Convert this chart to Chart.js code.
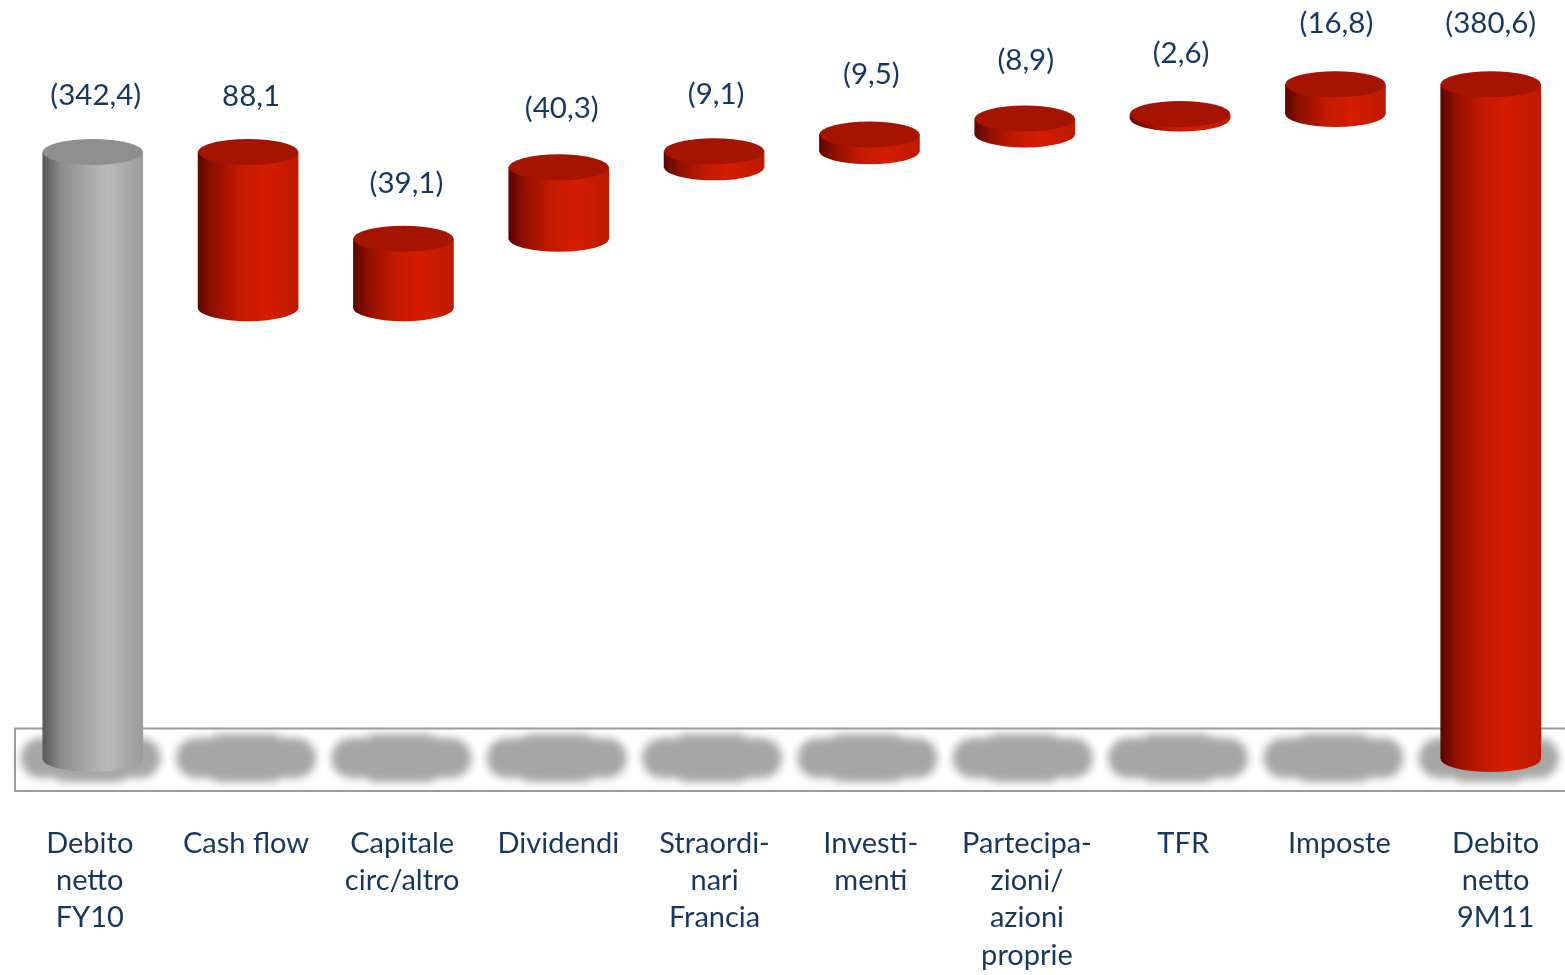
<!DOCTYPE html>
<html lang="it">
<head>
<meta charset="utf-8">
<title>Debito netto</title>
<style>
  html, body { margin: 0; padding: 0; background: #fff; overflow: hidden; }
  #frame { width: 1565px; height: 975px; overflow: hidden; }
  #frame canvas { display: block; }
</style>
<script src="https://cdn.jsdelivr.net/npm/chart.js@4"></script>
</head>
<body>
<div id="frame"><canvas id="bridge" width="1600" height="975" style="width:1600px;height:975px"></canvas></div>
<script>
// Net debt bridge, values in the reported unit
const categories = [
  ["Debito", "netto", "FY10"],
  ["Cash flow"],
  ["Capitale", "circ/altro"],
  ["Dividendi"],
  ["Straordi-", "nari", "Francia"],
  ["Investi-", "menti"],
  ["Partecipa-", "zioni/", "azioni", "proprie"],
  ["TFR"],
  ["Imposte"],
  ["Debito", "netto", "9M11"]
];
const valueLabels = ["(342,4)", "88,1", "(39,1)", "(40,3)", "(9,1)", "(9,5)", "(8,9)", "(2,6)", "(16,8)", "(380,6)"];
const barLow  = [0, 254.3, 254.3, 293.4, 333.7, 342.8, 352.3, 361.2, 363.8, 0];
const barHigh = [342.4, 342.4, 293.4, 333.7, 342.8, 352.3, 361.2, 363.8, 380.6, 380.6];

// Small per-label placement tweaks, in pixels from the default spot over each cylinder
const labelShiftX = [3, 3, 3, 3, 2, 2, 1, 1, 1, 0];
const labelShiftY = [3, 4, 4, 0, 2, -1, 1, -2, -2, -2];

const INK = "#17375e";
const FONT = "Lato, Carlito, 'Open Sans', sans-serif";
const CAP_RY = 13;

function sideGradient(ctx, x, w, stops) {
  const g = ctx.createLinearGradient(x - w / 2, 0, x + w / 2, 0);
  stops.forEach(([at, col]) => g.addColorStop(at, col));
  return g;
}
const RED_STOPS  = [[0, "#5c0600"], [0.16, "#931000"], [0.42, "#c41a00"], [0.66, "#d51c00"], [1, "#bd1a00"]];
const GREY_STOPS = [[0, "#585858"], [0.18, "#8a8a8a"], [0.45, "#a9a9a9"], [0.66, "#b9b9b9"], [1, "#9c9c9c"]];
const isGrey = i => i === 0;

// Floor band and soft shadows behind the cylinders
const floorBand = {
  id: "floorBand",
  beforeDatasetsDraw(chart) {
    const { ctx, scales: { x } } = chart;
    ctx.save();
    ctx.fillStyle = "#a6a6a6";
    ctx.filter = "blur(4px)";
    categories.forEach((_, i) => {
      const cx = x.getPixelForValue(i) - 2;
      ctx.beginPath();
      ctx.roundRect(cx - 70, 738, 140, 40, 20);
      ctx.roundRect(cx - 38, 734, 76, 48, 12);
      ctx.fill();
    });
    ctx.filter = "none";
    ctx.strokeStyle = "#9c9c9c";
    ctx.lineWidth = 2;
    ctx.strokeRect(15, 728.5, 1600, 62.5);
    ctx.restore();
  }
};

// Elliptical caps turning each bar into a cylinder, then the value labels above them
const cylinderCaps = {
  id: "cylinderCaps",
  afterDatasetsDraw(chart) {
    const { ctx } = chart;
    const bars = chart.getDatasetMeta(0).data;
    ctx.save();
    bars.forEach((bar, i) => {
      const rx = bar.width / 2;
      ctx.fillStyle = sideGradient(ctx, bar.x, bar.width, isGrey(i) ? GREY_STOPS : RED_STOPS);
      // The lower rim starts a pixel inside the bar so no seam shows at the join
      ctx.beginPath();
      ctx.moveTo(bar.x - rx, bar.base - 1);
      ctx.lineTo(bar.x + rx, bar.base - 1);
      ctx.ellipse(bar.x, bar.base, rx, CAP_RY, 0, 0, Math.PI);
      ctx.closePath();
      ctx.fill();
      ctx.fillStyle = isGrey(i) ? "#8f8f8f" : "#a51400";
      ctx.beginPath();
      ctx.ellipse(bar.x, bar.y, rx, CAP_RY, 0, 0, Math.PI * 2);
      ctx.fill();
      ctx.fillStyle = INK;
      ctx.font = "29.5px " + FONT;
      ctx.textAlign = "center";
      ctx.textBaseline = "middle";
      ctx.fillText(valueLabels[i], bar.x + labelShiftX[i], bar.y - 59 + labelShiftY[i]);
    });
    ctx.restore();
  }
};

new Chart(document.getElementById("bridge"), {
  type: "bar",
  data: {
    labels: categories.map(c => c.join(" ")),
    datasets: [{
      data: barLow.map((low, i) => [low, barHigh[i]]),
      xAxisID: "x",
      yAxisID: "y",
      barThickness: 100,
      borderWidth: 0,
      backgroundColor(c) {
        const cx = c.type === "data" ? c.chart.scales.x.getPixelForValue(c.dataIndex) : NaN;
        if (!Number.isFinite(cx)) return "#c41a00";
        return sideGradient(c.chart.ctx, cx, 100, isGrey(c.dataIndex) ? GREY_STOPS : RED_STOPS);
      }
    }]
  },
  options: {
    responsive: false,
    animation: false,
    layout: { padding: { left: 15.1, right: 31.6, top: 0, bottom: 0 } },
    plugins: { legend: { display: false }, tooltip: { enabled: false } },
    scales: {
      x: { type: "category", display: false, offset: true },
      y: { type: "linear", display: false, min: 0, max: 428.1 },
      // Text axis with its own spacing: the captions spread slightly wider than the cylinders
      captions: {
        type: "linear",
        position: "bottom",
        bounds: "data",
        offset: false,
        min: -0.478,
        max: 9.466,
        grid: { display: false, drawTicks: false },
        border: { display: false },
        afterBuildTicks(axis) { axis.ticks = categories.map((_, i) => ({ value: i })); },
        afterFit(axis) {
          axis.height = 216;
          axis.paddingLeft = axis.paddingRight = 0;
        },
        ticks: {
          autoSkip: false,
          maxRotation: 0,
          minRotation: 0,
          padding: 65.5,
          color: INK,
          font: { family: FONT, size: 29, lineHeight: 1.29 },
          callback: v => categories[v]
        }
      }
    }
  },
  plugins: [floorBand, cylinderCaps]
});
</script>
</body>
</html>
